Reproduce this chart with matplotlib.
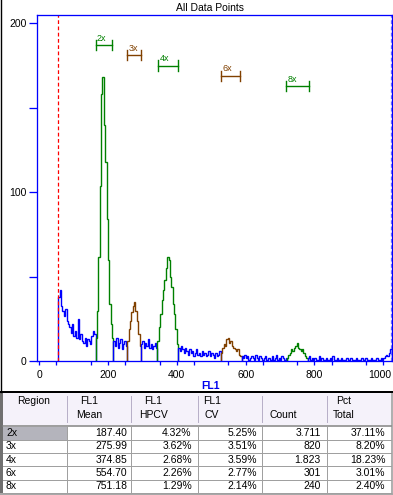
import matplotlib
matplotlib.use("Agg")
import matplotlib.pyplot as plt
import matplotlib.transforms as mtransforms
import numpy as np
from matplotlib.patches import Rectangle

plt.rcParams['font.family'] = ['Liberation Sans', 'DejaVu Sans']

# Histogram data (counts per 4-channel bin), split by gated region
# -----------------------------------------------------------------
bin_w = 4
seg_starts = [56, 164, 216, 256, 296, 344, 404, 528, 588, 720, 780]
seg_kind = ['none', '2x', 'none', '3x', 'none', '4x', 'none', '6x', 'none', '8x', 'none']
seg_counts = [
    [38, 42, 33, 30, 27, 31, 24, 22, 20, 17, 22, 15, 18, 14, 25, 13, 16, 12, 11, 14,
     9, 13, 12, 10, 15, 18, 16],
    [14, 30, 62, 104, 158, 168, 140, 118, 84, 60, 34, 22, 14],
    [12, 9, 14, 8, 11, 13, 7, 10, 12, 9],
    [12, 19, 24, 29, 33, 35, 30, 24, 16, 9],
    [10, 12, 8, 11, 9, 13, 8, 10, 7, 9, 11, 8],
    [12, 20, 28, 36, 42, 48, 55, 62, 60, 50, 44, 34, 28, 19, 10],
    [8, 6, 9, 7, 5, 8, 6, 4, 7, 5, 6, 3, 5, 7, 4, 5, 3, 6, 4, 5,
     3, 4, 6, 3, 5, 4, 2, 5, 3, 4, 6],
    [5, 8, 10, 9, 13, 14, 11, 12, 9, 8, 7, 6, 7, 4, 3],
    [3, 2, 4, 2, 3, 1, 2, 3, 2, 1, 4, 2, 1, 3, 2, 1, 2, 3, 1, 2,
     2, 1, 3, 1, 2, 4, 1, 2, 1, 3, 2, 1, 2],
    [2, 4, 5, 7, 6, 8, 9, 11, 8, 7, 6, 7, 5, 3, 2],
    [2, 3, 1, 2, 1, 2, 1, 1, 3, 1, 2, 1, 1, 2, 1, 1, 2, 1, 3, 1,
     1, 2, 1, 1, 2, 1, 1, 1, 2, 1, 1, 2, 1, 1, 1, 2, 1, 1, 1, 2,
     1, 1, 2, 1, 1, 1, 2, 1, 1, 1, 2, 1, 1, 2, 1, 2, 3, 4, 3, 5, 7],
]

# Region gates
gate_names = ['2x', '3x', '4x', '6x', '8x']
gate_lo = [164, 256, 346, 529, 717]
gate_hi = [212, 297, 403, 585, 783]
lower_marker = 55
upper_marker = 1022

# Statistics table
col_heads = [('Region', ''), ('FL1', 'Mean'), ('FL1', 'HPCV'), ('FL1', 'CV'), ('', 'Count'), ('Pct', 'Total')]
fl1_mean = [187.40, 275.99, 374.85, 554.70, 751.18]
fl1_hpcv = [4.32, 3.62, 2.68, 2.26, 1.29]
fl1_cv = [5.25, 3.51, 3.59, 2.77, 2.14]
count = [3711, 820, 1823, 301, 240]
pct_total = [37.11, 8.20, 18.23, 3.01, 2.40]

colors = {'none': '#0000ff', '2x': '#008000', '3x': '#804000', '4x': '#008000',
          '6x': '#804000', '8x': '#008000'}
W, H = 393, 495
px = 0.72  # one pixel in points

fig = plt.figure(figsize=(W / 100, H / 100), dpi=100)
ax = fig.add_axes([37 / W, 1 - 361.3 / H, (392.3 - 37) / W, (361.3 - 15.3) / H])

# Histogram
# ----------
for start, kind, vals in zip(seg_starts, seg_kind, seg_counts):
    edges = start + bin_w * np.arange(len(vals) + 1)
    ax.stairs(vals, edges, baseline=0, color=colors[kind], lw=1.0)

# Gate bars
# ----------
for i, name in enumerate(gate_names):
    yb = 187 - 6 * i
    c = colors[name]
    ax.plot([gate_lo[i], gate_hi[i]], [yb, yb], color=c, lw=1.0)
    ax.plot([gate_lo[i], gate_lo[i]], [yb - 3, yb + 3], color=c, lw=1.0)
    ax.plot([gate_hi[i], gate_hi[i]], [yb - 3, yb + 3], color=c, lw=1.0)
    ax.text(gate_lo[i] + 4, yb + 1.3, name, color=c, fontsize=6.5, ha='left', va='bottom')

ax.axvline(lower_marker, color='#ff0000', lw=0.9, ls=(0, (3, 2)))
ax.axvline(upper_marker, color='#7878ff', lw=0.9, ls=(0, (3, 2)))

ax.set_xlim(-6, 1026)
ax.set_ylim(0, 204.7)
ax.set_xticks(np.arange(0, 1001, 200))
ax.set_xticks(np.arange(50, 1001, 100), minor=True)
ax.set_yticks([0, 50, 100, 150, 200])
ax.set_yticklabels(['0', '', '100', '', '200'])
ax.tick_params(axis='x', which='both', direction='out', length=4.3 * px, width=1.3 * px,
               color='#0000ff', labelsize=7.5, pad=3.5)
ax.tick_params(axis='y', direction='out', length=8 * px, width=1.3 * px,
               color='#0000ff', labelsize=7.5, pad=1.9)
for s in ax.spines.values():
    s.set_color('#0000ff')
    s.set_linewidth(1.3 * px)

# keep the last x label inside the figure
last = ax.get_xticklabels()[-1]
last.set_transform(last.get_transform() +
                   mtransforms.ScaledTranslation(-4 / 100, 0, fig.dpi_scale_trans))

fig.text(209.5 / W, 1 - 8 / H, 'All Data Points', fontsize=7.5, ha='center', va='center')
fig.text(210.5 / W, 1 - 386 / H, 'FL1', fontsize=7.5, fontweight='bold', color='#0000ee',
         ha='center', va='center')

# Table drawn in pixel coordinates
# ---------------------------------
tab = fig.add_axes([0, 0, 1, 1], zorder=-1)
tab.set_xlim(0, W)
tab.set_ylim(H, 0)
tab.axis('off')

tab.plot([0.5, 0.5], [0, 392], color='black', lw=1.4 * px)
tab.plot([0, W], [392, 392], color='black', lw=2 * px)
tab.add_patch(Rectangle((2, 393), 389, 32, color='#f5f2fa', lw=0))
tab.add_patch(Rectangle((0, 393), 2.5, 102, color='#707070', lw=0))
tab.add_patch(Rectangle((390.5, 393), 2.5, 102, color='#b0b0b0', lw=0))

col_x = [2.5, 66.7, 130.7, 198.3, 262, 326.7, 390.5]
head_cx = [34, 89, 153, 212, 283.6, 344]
for xx in col_x[1:-1]:
    tab.plot([xx, xx], [396, 422], color='#b8b0c8', lw=1 * px)
for (l1, l2), cx in zip(col_heads, head_cx):
    if l1:
        tab.text(cx, 401.5, l1, fontsize=7.5, ha='center', va='center')
    if l2:
        tab.text(cx, 415.5, l2, fontsize=7.5, ha='center', va='center')

tab.plot([2.5, 390.5], [425.5, 425.5], color='#808080', lw=1.5 * px)
row_h = 13.3
top = 426.5
n = len(gate_names)
tab.add_patch(Rectangle((2.5, top), 64, row_h, color='#b4b4bc', lw=0))
for k in range(1, n + 1):
    tab.plot([2.5, 390.5], [top + k * row_h, top + k * row_h], color='#a0a0a0', lw=1 * px)
for xx in col_x[1:-1]:
    tab.plot([xx, xx], [top, top + n * row_h], color='#a0a0a0', lw=1 * px)
tab.add_patch(Rectangle((0, top + n * row_h), W, H - top - n * row_h, color='#a8a8a8', lw=0))

right_x = [127.3, 191.7, 256.7, 320.7, 385.3]
for k in range(n):
    cy = top + (k + 0.5) * row_h
    cells = [f"{fl1_mean[k]:.2f}", f"{fl1_hpcv[k]:.2f}%", f"{fl1_cv[k]:.2f}%",
             f"{count[k]:,}".replace(',', '.'), f"{pct_total[k]:.2f}%"]
    tab.text(6, cy, gate_names[k], fontsize=7.5, ha='left', va='center')
    for rx, s in zip(right_x, cells):
        tab.text(rx, cy, s, fontsize=7.5, ha='right', va='center')

fig.savefig('out.png', dpi=100)
